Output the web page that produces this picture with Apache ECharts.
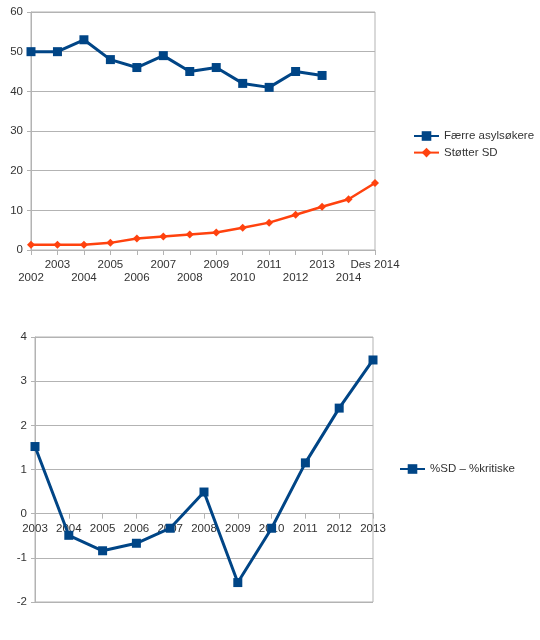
<!DOCTYPE html>
<html>
<head>
<meta charset="utf-8">
<script src="https://cdn.jsdelivr.net/npm/echarts@6/dist/echarts.min.js"></script>
<style>
html,body{margin:0;padding:0;background:#fff;}
#c{width:540px;height:640px;}
</style>
</head>
<body>
<div id="c"></div>
<script>
const topCategories = ['2002','2003','2004','2005','2006','2007','2008','2009','2010','2011','2012','2013','2014','Des 2014'];
const faerreAsylsokere = [50,50,53,48,46,49,45,46,42,41,45,44,null,null];
const stotterSD = [1.3,1.3,1.3,1.8,2.9,3.4,3.9,4.4,5.6,6.9,8.9,10.9,12.8,16.9];
const bottomCategories = ['2003','2004','2005','2006','2007','2008','2009','2010','2011','2012','2013'];
const sdMinusKritiske = [1.52,-0.49,-0.84,-0.67,-0.33,0.49,-1.56,-0.33,1.15,2.39,3.48];
const bottomMin = -2, bottomMax = 4;

const BLUE = '#004586', ORANGE = '#ff420e', GRID = '#b3b3b3', TXT = '#333333';
const FONT = 'Liberation Sans, Arial, sans-serif';
const FS = 11.5;

const g2 = {left: 35, top: 337, width: 338, height: 265};
// place the category axis on the zero line of the lower chart
const zeroOffset = -g2.height * (0 - bottomMin) / (bottomMax - bottomMin);

const chart = echarts.init(document.getElementById('c'), null, {renderer: 'canvas'});

const axisCommonY = {
  axisLine: {show: true, lineStyle: {color: GRID, width: 1}},
  axisTick: {show: true, length: 4, lineStyle: {color: GRID}},
  splitLine: {show: true, lineStyle: {color: GRID, width: 1}},
  axisLabel: {color: TXT, fontSize: FS, fontFamily: FONT, margin: 8}
};

chart.setOption({
  animation: false,
  grid: [
    {left: 31, top: 12, width: 344, height: 238, show: true, borderColor: GRID, borderWidth: 1, backgroundColor: 'transparent'},
    Object.assign({show: true, borderColor: GRID, borderWidth: 1, backgroundColor: 'transparent'}, g2)
  ],
  legend: [
    {
      orient: 'vertical', left: 413, top: 130, padding: 0, itemWidth: 25, itemHeight: 12, itemGap: 4.6,
      textStyle: {color: TXT, fontSize: FS, fontFamily: FONT},
      data: ['Færre asylsøkere', 'Støtter SD']
    },
    {
      orient: 'vertical', left: 399, top: 463, padding: 0, itemWidth: 25, itemHeight: 12,
      textStyle: {color: TXT, fontSize: FS, fontFamily: FONT},
      data: ['%SD – %kritiske']
    }
  ],
  xAxis: [
    {
      type: 'category', gridIndex: 0, data: topCategories, boundaryGap: false,
      axisLine: {show: true, lineStyle: {color: GRID}},
      axisTick: {show: true, length: 5, interval: 0, lineStyle: {color: GRID}},
      splitLine: {show: false},
      axisLabel: {
        interval: 0, hideOverlap: false, color: TXT, fontSize: FS, fontFamily: FONT, margin: 9, lineHeight: 12.5,
        formatter: (v, i) => (i % 2 === 0 ? ' \n' + v : v)
      }
    },
    {
      type: 'category', gridIndex: 1, data: bottomCategories, boundaryGap: false,
      offset: zeroOffset,
      axisLine: {show: true, onZero: false, lineStyle: {color: GRID}},
      axisTick: {show: true, length: 5, interval: 0, lineStyle: {color: GRID}},
      splitLine: {show: false},
      axisLabel: {interval: 0, hideOverlap: false, color: TXT, fontSize: FS, fontFamily: FONT, margin: 9}
    }
  ],
  yAxis: [
    Object.assign({type: 'value', gridIndex: 0, min: 0, max: 60, interval: 10}, axisCommonY),
    Object.assign({type: 'value', gridIndex: 1, min: bottomMin, max: bottomMax, interval: 1}, axisCommonY)
  ],
  series: [
    {
      name: 'Færre asylsøkere', type: 'line', xAxisIndex: 0, yAxisIndex: 0, data: faerreAsylsokere,
      symbol: 'rect', symbolSize: 9, showAllSymbol: true, connectNulls: false,
      lineStyle: {color: BLUE, width: 3}, itemStyle: {color: BLUE}
    },
    {
      name: 'Støtter SD', type: 'line', xAxisIndex: 0, yAxisIndex: 0, data: stotterSD,
      symbol: 'diamond', symbolSize: 8, showAllSymbol: true,
      lineStyle: {color: ORANGE, width: 2.5}, itemStyle: {color: ORANGE}
    },
    {
      name: '%SD – %kritiske', type: 'line', xAxisIndex: 1, yAxisIndex: 1, data: sdMinusKritiske,
      symbol: 'rect', symbolSize: 9, showAllSymbol: true,
      lineStyle: {color: BLUE, width: 3}, itemStyle: {color: BLUE}
    }
  ]
});
</script>
</body>
</html>
